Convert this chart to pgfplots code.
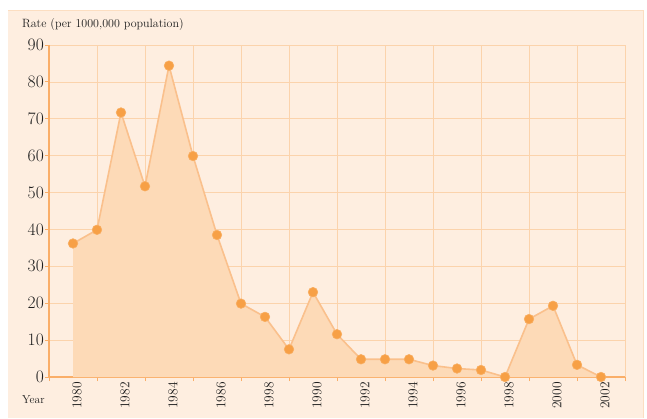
\documentclass[border=0pt]{standalone}
\usepackage{pgfplots}
\pgfplotsset{compat=1.18}
\definecolor{panel}{HTML}{FEEEE0}
\definecolor{areac}{HTML}{FDDAB7}
\definecolor{gridc}{HTML}{FBD3AC}
\definecolor{axisc}{HTML}{FAAE68}
\definecolor{linec}{HTML}{FAC08C}
\definecolor{markc}{HTML}{F7A046}
\definecolor{textc}{HTML}{1E1E1E}
\begin{document}
\begin{tikzpicture}
\path[use as bounding box, fill=white] (-49pt,-41pt) rectangle (598pt,377pt);
\fill[panel] (-41pt,-41pt) rectangle (594pt,367pt);
\draw[gridc!60!panel, line width=0.8pt] (594pt,-41pt) -- (594pt,367pt) -- (-41pt,367pt);
\begin{axis}[at={(0pt,0pt)}, anchor=south west,
  scale only axis, width=576pt, height=332pt,
  xmin=1979, xmax=2003, ymin=0, ymax=90,
  /pgf/number format/assume math mode=true,
  axis x line*=bottom, axis y line*=left,
  axis line style={draw=axisc, line width=1.6pt, -},
  xtick={1979,1981,...,2003}, xticklabels={},
  ytick={0,10,...,90},
  grid=major, grid style={gridc, line width=0.7pt},
  major tick length=4pt, tick style={axisc, line width=0.8pt},
  tick align=outside,
  extra x ticks={1980,1982,...,2002},
  extra x tick labels={1980,1982,1984,1986,1998,1990,1992,1994,1996,1998,2000,2002},
  extra x tick style={grid=none, major tick length=0pt,
    xticklabel style={xshift=4pt, yshift=-4pt, rotate=90, anchor=east, font=\fontsize{13.5}{14}\selectfont, text=textc, inner sep=1pt}},
  yticklabel style={font=\fontsize{17.5}{18}\selectfont, text=textc, inner sep=1pt},
  clip=false,
]
\addplot[draw=none, fill=areac] coordinates {
(1980,36.2) (1981,39.9) (1982,71.7) (1983,51.7) (1984,84.4) (1985,59.9) (1986,38.5)
(1987,19.9) (1988,16.3) (1989,7.5) (1990,23) (1991,11.6) (1992,4.8) (1993,4.8)
(1994,4.8) (1995,3.1) (1996,2.3) (1997,1.9) (1998,0) (1999,15.7) (2000,19.3)
(2001,3.3) (2002,0)} \closedcycle;
\addplot[linec, line width=1.6pt, mark=*, mark size=4.8pt, mark options={fill=markc, draw=markc!85!white, line width=0.6pt}] coordinates {
(1980,36.2) (1981,39.9) (1982,71.7) (1983,51.7) (1984,84.4) (1985,59.9) (1986,38.5)
(1987,19.9) (1988,16.3) (1989,7.5) (1990,23) (1991,11.6) (1992,4.8) (1993,4.8)
(1994,4.8) (1995,3.1) (1996,2.3) (1997,1.9) (1998,0) (1999,15.7) (2000,19.3)
(2001,3.3) (2002,0)};
\end{axis}
\node[anchor=base west, inner sep=0pt, text=textc, font=\fontsize{12}{13}\selectfont] at (-27pt,349pt) {Rate (per 1000,000 population)};
\node[anchor=base west, inner sep=0pt, text=textc, font=\fontsize{11.5}{13}\selectfont] at (-27pt,-26pt) {Year};
\end{tikzpicture}
\end{document}
